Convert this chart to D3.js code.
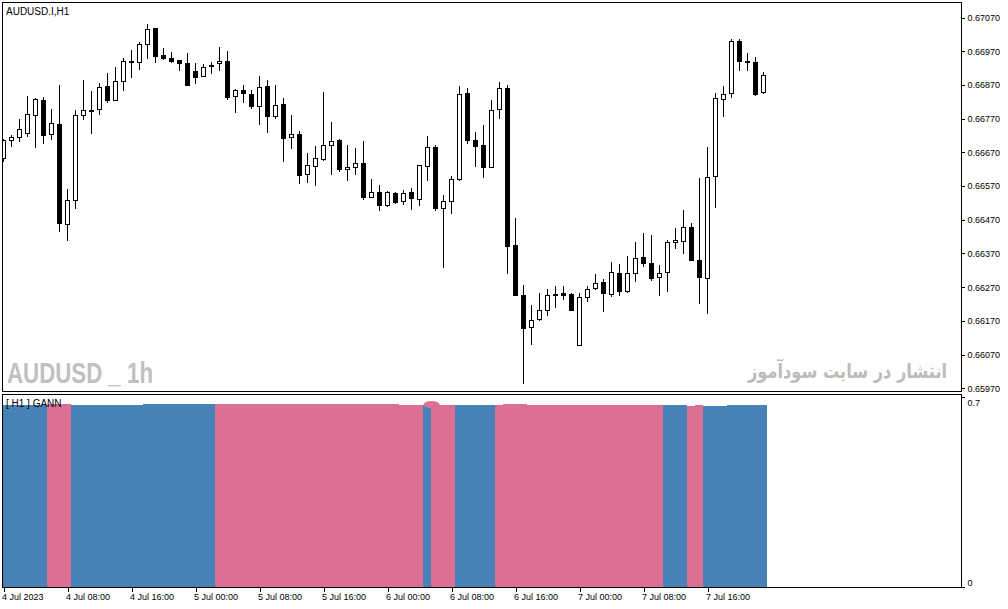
<!DOCTYPE html>
<html>
<head>
<meta charset="utf-8">
<script src="https://cdnjs.cloudflare.com/ajax/libs/d3/7.8.5/d3.min.js"></script>
<style>
    body { margin: 0; background: #fff; }
    svg text { font-family: "Liberation Sans", Arial, sans-serif; }
</style>
</head>
<body>
<div id="chart"></div>
<script>
// AUDUSD H1, 4 Jul 00:00 .. 7 Jul 23:00
const opens = [
    0.66652, 0.66705, 0.66714, 0.66729, 0.66782, 0.66825, 0.66723, 0.66753, 0.66458, 0.66530,
    0.66782, 0.66796, 0.66797, 0.66866, 0.66824, 0.66880, 0.66938, 0.66937, 0.66991, 0.67039,
    0.66959, 0.66950, 0.66944, 0.66935, 0.66911, 0.66895, 0.66930, 0.66934, 0.66941, 0.66836,
    0.66854, 0.66843, 0.66808, 0.66866, 0.66775, 0.66813, 0.66714, 0.66724, 0.66603, 0.66627,
    0.66650, 0.66693, 0.66706, 0.66619, 0.66625, 0.66637, 0.66539, 0.66553, 0.66511, 0.66550,
    0.66523, 0.66553, 0.66531, 0.66630, 0.66685, 0.66505, 0.66527, 0.66590, 0.66846, 0.66706,
    0.66691, 0.66627, 0.66797, 0.66860, 0.66394, 0.66248, 0.66151, 0.66175, 0.66203, 0.66247,
    0.66254, 0.66250, 0.66098, 0.66241, 0.66267, 0.66286, 0.66252, 0.66313, 0.66261, 0.66313,
    0.66360, 0.66342, 0.66300, 0.66313, 0.66402, 0.66407, 0.66449, 0.66351, 0.66298, 0.66600,
    0.66827, 0.66845, 0.66999, 0.66941, 0.66938, 0.66849
];
const highs = [
    0.66709, 0.66721, 0.66768, 0.66837, 0.66832, 0.66833, 0.66798, 0.66869, 0.66562, 0.66795,
    0.66884, 0.66852, 0.66875, 0.66906, 0.66923, 0.66950, 0.66973, 0.66996, 0.67051, 0.67040,
    0.66979, 0.66967, 0.66944, 0.66964, 0.66934, 0.66933, 0.66938, 0.66982, 0.66970, 0.66857,
    0.66869, 0.66855, 0.66896, 0.66884, 0.66869, 0.66831, 0.66780, 0.66733, 0.66667, 0.66688,
    0.66849, 0.66759, 0.66709, 0.66691, 0.66682, 0.66703, 0.66590, 0.66572, 0.66556, 0.66551,
    0.66557, 0.66565, 0.66632, 0.66718, 0.66691, 0.66542, 0.66599, 0.66866, 0.66860, 0.66730,
    0.66750, 0.66825, 0.66878, 0.66869, 0.66474, 0.66275, 0.66216, 0.66254, 0.66265, 0.66272,
    0.66272, 0.66253, 0.66254, 0.66272, 0.66308, 0.66295, 0.66346, 0.66340, 0.66361, 0.66403,
    0.66430, 0.66424, 0.66337, 0.66409, 0.66447, 0.66498, 0.66459, 0.66593, 0.66685, 0.66846,
    0.66866, 0.67006, 0.67006, 0.66964, 0.66953, 0.66908
];
const lows = [
    0.66644, 0.66689, 0.66703, 0.66718, 0.66686, 0.66698, 0.66709, 0.66436, 0.66409, 0.66505,
    0.66768, 0.66728, 0.66785, 0.66820, 0.66824, 0.66855, 0.66894, 0.66917, 0.66951, 0.66939,
    0.66948, 0.66939, 0.66914, 0.66870, 0.66877, 0.66895, 0.66906, 0.66914, 0.66827, 0.66790,
    0.66820, 0.66802, 0.66754, 0.66731, 0.66772, 0.66644, 0.66683, 0.66579, 0.66581, 0.66572,
    0.66647, 0.66606, 0.66615, 0.66588, 0.66605, 0.66531, 0.66539, 0.66498, 0.66511, 0.66520,
    0.66518, 0.66502, 0.66514, 0.66587, 0.66498, 0.66329, 0.66490, 0.66588, 0.66698, 0.66629,
    0.66597, 0.66627, 0.66772, 0.66312, 0.66246, 0.65985, 0.66100, 0.66173, 0.66186, 0.66210,
    0.66235, 0.66201, 0.66098, 0.66230, 0.66265, 0.66198, 0.66243, 0.66246, 0.66255, 0.66288,
    0.66332, 0.66292, 0.66246, 0.66258, 0.66386, 0.66371, 0.66350, 0.66222, 0.66193, 0.66508,
    0.66778, 0.66835, 0.66915, 0.66915, 0.66841, 0.66846
];
const closes = [
    0.66706, 0.66715, 0.66739, 0.66785, 0.66828, 0.66722, 0.66756, 0.66460, 0.66530, 0.66782,
    0.66797, 0.66795, 0.66863, 0.66823, 0.66881, 0.66940, 0.66941, 0.66991, 0.67035, 0.66956,
    0.66951, 0.66942, 0.66934, 0.66870, 0.66894, 0.66922, 0.66926, 0.66941, 0.66835, 0.66854,
    0.66844, 0.66808, 0.66863, 0.66778, 0.66809, 0.66713, 0.66723, 0.66603, 0.66631, 0.66652,
    0.66693, 0.66705, 0.66621, 0.66626, 0.66637, 0.66537, 0.66553, 0.66514, 0.66551, 0.66523,
    0.66548, 0.66534, 0.66631, 0.66685, 0.66504, 0.66527, 0.66592, 0.66842, 0.66706, 0.66689,
    0.66627, 0.66797, 0.66860, 0.66392, 0.66246, 0.66151, 0.66173, 0.66203, 0.66247, 0.66250,
    0.66249, 0.66203, 0.66241, 0.66265, 0.66283, 0.66252, 0.66316, 0.66261, 0.66313, 0.66357,
    0.66341, 0.66297, 0.66313, 0.66403, 0.66409, 0.66449, 0.66350, 0.66300, 0.66598, 0.66830,
    0.66842, 0.66999, 0.66939, 0.66938, 0.66843, 0.66898
];

// GANN histogram: value and direction (1 = up / blue, -1 = down / pink)
const gannValues = [
    0.670, 0.670, 0.670, 0.670, 0.670, 0.670, 0.674, 0.674, 0.674, 0.670,
    0.670, 0.670, 0.670, 0.670, 0.670, 0.670, 0.670, 0.670, 0.674, 0.674,
    0.674, 0.674, 0.674, 0.674, 0.674, 0.674, 0.674, 0.674, 0.674, 0.674,
    0.674, 0.674, 0.674, 0.674, 0.674, 0.674, 0.674, 0.674, 0.674, 0.674,
    0.674, 0.674, 0.674, 0.674, 0.674, 0.674, 0.674, 0.674, 0.674, 0.674,
    0.670, 0.670, 0.670, 0.670, 0.670, 0.670, 0.670, 0.670, 0.670, 0.670,
    0.670, 0.670, 0.670, 0.674, 0.674, 0.674, 0.670, 0.670, 0.670, 0.670,
    0.670, 0.670, 0.670, 0.670, 0.670, 0.670, 0.670, 0.670, 0.670, 0.670,
    0.670, 0.670, 0.670, 0.670, 0.670, 0.670, 0.668, 0.670, 0.668, 0.668,
    0.668, 0.670, 0.670, 0.670, 0.670, 0.670
];
const gannDir = [
     1,  1,  1,  1,  1,  1, -1, -1, -1,  1,
     1,  1,  1,  1,  1,  1,  1,  1,  1,  1,
     1,  1,  1,  1,  1,  1,  1, -1, -1, -1,
    -1, -1, -1, -1, -1, -1, -1, -1, -1, -1,
    -1, -1, -1, -1, -1, -1, -1, -1, -1, -1,
    -1, -1, -1,  1, -1, -1, -1,  1,  1,  1,
     1,  1, -1, -1, -1, -1, -1, -1, -1, -1,
    -1, -1, -1, -1, -1, -1, -1, -1, -1, -1,
    -1, -1, -1,  1,  1,  1, -1, -1,  1,  1,
     1,  1,  1,  1,  1,  1
];
const signalIndex = [54];
const signalValue = [0.674];

const priceTicks = [0.65970, 0.66070, 0.66170, 0.66270, 0.66370, 0.66470,
                    0.66570, 0.66670, 0.66770, 0.66870, 0.66970, 0.67070];
const gannTicks = [0, 0.7];
const timeIndex = [0, 8, 16, 24, 32, 40, 48, 56, 64, 72, 80, 88];
const timeLabels = ["4 Jul 2023", "4 Jul 08:00", "4 Jul 16:00", "5 Jul 00:00", "5 Jul 08:00",
                    "5 Jul 16:00", "6 Jul 00:00", "6 Jul 08:00", "6 Jul 16:00", "7 Jul 00:00",
                    "7 Jul 08:00", "7 Jul 16:00"];

class GannChart {
    constructor(container) {
        this.container = container;
        this.width = 1008;
        this.height = 609;
        this.main = { left: 2.5, top: 2.5, right: 961.5, bottom: 391.5 };
        this.sub = { left: 2.5, top: 394.5, right: 961.5, bottom: 587.5 };
        this.colors = { up: "#4682b4", down: "#db7093" };
        this.init();
    }

    init() {
        d3.select(this.container).html("");

        this.svg = d3.select(this.container)
            .append("svg")
            .attr("width", this.width)
            .attr("height", this.height)
            .style("display", "block");

        const n = opens.length;
        this.x = d3.scaleLinear().domain([0, n - 1]).range([3.5, 3.5 + 8 * (n - 1)]);
        this.y = d3.scaleLinear()
            .domain([priceTicks[0], priceTicks[priceTicks.length - 1]])
            .range([388.3, 17.5]);
        this.yG = d3.scaleLinear().domain(gannTicks).range([587, 397]);
    }

    render() {
        const svg = this.svg;
        const m = this.main, s = this.sub;
        const data = opens.map((o, i) => ({
            i, open: o, high: highs[i], low: lows[i], close: closes[i],
            gann: gannValues[i], dir: gannDir[i]
        }));

        svg.append("clipPath").attr("id", "clip-main")
            .append("rect").attr("x", m.left).attr("y", m.top)
            .attr("width", m.right - m.left).attr("height", m.bottom - m.top);
        svg.append("clipPath").attr("id", "clip-sub")
            .append("rect").attr("x", s.left).attr("y", s.top)
            .attr("width", s.right - s.left).attr("height", s.bottom - s.top);

        // watermarks
        svg.append("text")
            .attr("x", 7).attr("y", 382.5)
            .attr("font-size", 29).attr("font-weight", "bold")
            .attr("fill", "#c0c0c0")
            .attr("textLength", 146).attr("lengthAdjust", "spacingAndGlyphs")
            .text("AUDUSD _ 1h");
        svg.append("text")
            .attr("x", 947).attr("y", 378)
            .attr("text-anchor", "end")
            .attr("font-size", 20).attr("font-weight", "bold")
            .style("font-family", "'DejaVu Sans', sans-serif")
            .attr("fill", "#bcbcbc")
            .attr("textLength", 199).attr("lengthAdjust", "spacingAndGlyphs")
            .text("انتشار در سایت سودآموز");

        // candles
        const candles = svg.append("g")
            .attr("clip-path", "url(#clip-main)")
            .attr("shape-rendering", "crispEdges");

        candles.selectAll("line")
            .data(data)
            .join("line")
            .attr("x1", d => this.x(d.i))
            .attr("x2", d => this.x(d.i))
            .attr("y1", d => Math.round(this.y(d.high)))
            .attr("y2", d => Math.round(this.y(d.low)) + 1)
            .attr("stroke", "#000");

        candles.selectAll("rect")
            .data(data)
            .join("rect")
            .attr("x", d => this.x(d.i) - 2)
            .attr("width", 4)
            .attr("y", d => Math.round(this.y(Math.max(d.open, d.close))) + 0.5)
            .attr("height", d => Math.max(1, Math.round(this.y(Math.min(d.open, d.close)) - this.y(Math.max(d.open, d.close)))))
            .attr("fill", d => d.close >= d.open ? "#fff" : "#000")
            .attr("stroke", "#000");

        // GANN histogram
        const hist = svg.append("g")
            .attr("clip-path", "url(#clip-sub)")
            .attr("shape-rendering", "crispEdges");

        hist.selectAll("rect")
            .data(data)
            .join("rect")
            .attr("x", d => this.x(d.i) - 4.5)
            .attr("width", 8)
            .attr("y", d => Math.round(this.yG(d.gann)))
            .attr("height", d => this.yG(0) - Math.round(this.yG(d.gann)) + 1)
            .attr("fill", d => d.dir > 0 ? this.colors.up : this.colors.down);

        svg.append("g")
            .selectAll("ellipse")
            .data(signalIndex)
            .join("ellipse")
            .attr("cx", (d, k) => this.x(d) - 4)
            .attr("cy", (d, k) => this.yG(signalValue[k]) + 0.5)
            .attr("rx", 8)
            .attr("ry", 3.6)
            .attr("fill", this.colors.down);

        // panel frames
        [m, s].forEach(p => {
            svg.append("rect")
                .attr("x", p.left).attr("y", p.top)
                .attr("width", p.right - p.left).attr("height", p.bottom - p.top)
                .attr("fill", "none").attr("stroke", "#000")
                .attr("shape-rendering", "crispEdges");
        });

        // labels
        svg.append("text").attr("x", 6).attr("y", 14.5)
            .attr("font-size", 10).attr("fill", "#000")
            .text("AUDUSD.I,H1");
        svg.append("text").attr("x", 6).attr("y", 407)
            .attr("font-size", 10).attr("fill", "#000")
            .text("[ H1 ] GANN");

        // price axis
        const yAxis = svg.append("g")
            .attr("transform", `translate(${m.right},0)`)
            .call(d3.axisRight(this.y)
                .tickValues(priceTicks)
                .tickFormat(d3.format(".5f"))
                .tickSize(3)
                .tickPadding(3));
        this.styleAxis(yAxis);

        // gann axis
        const gAxis = svg.append("g")
            .attr("transform", `translate(${s.right},0)`)
            .call(d3.axisRight(this.yG)
                .tickValues(gannTicks)
                .tickFormat(d => d === 0 ? "0" : d3.format(".1f")(d))
                .tickSize(3)
                .tickPadding(3));
        this.styleAxis(gAxis);
        gAxis.selectAll("text").attr("dy", d => d === 0 ? "-0.2em" : "0.9em");

        // time axis
        const xAxis = svg.append("g")
            .attr("transform", `translate(0,${s.bottom})`)
            .call(d3.axisBottom(this.x)
                .tickValues(timeIndex)
                .tickFormat((d, k) => timeLabels[k])
                .tickSize(4)
                .tickPadding(2));
        this.styleAxis(xAxis);
        xAxis.selectAll("text").attr("text-anchor", "start").attr("x", -2);
    }

    styleAxis(g) {
        g.attr("font-family", "'Liberation Sans', Arial, sans-serif")
            .attr("font-size", 9);
        g.select(".domain").remove();
        g.selectAll(".tick line").attr("stroke", "#000").attr("shape-rendering", "crispEdges");
        g.selectAll(".tick text").attr("fill", "#000");
    }
}

const chart = new GannChart("#chart");
chart.render();
</script>
</body>
</html>
